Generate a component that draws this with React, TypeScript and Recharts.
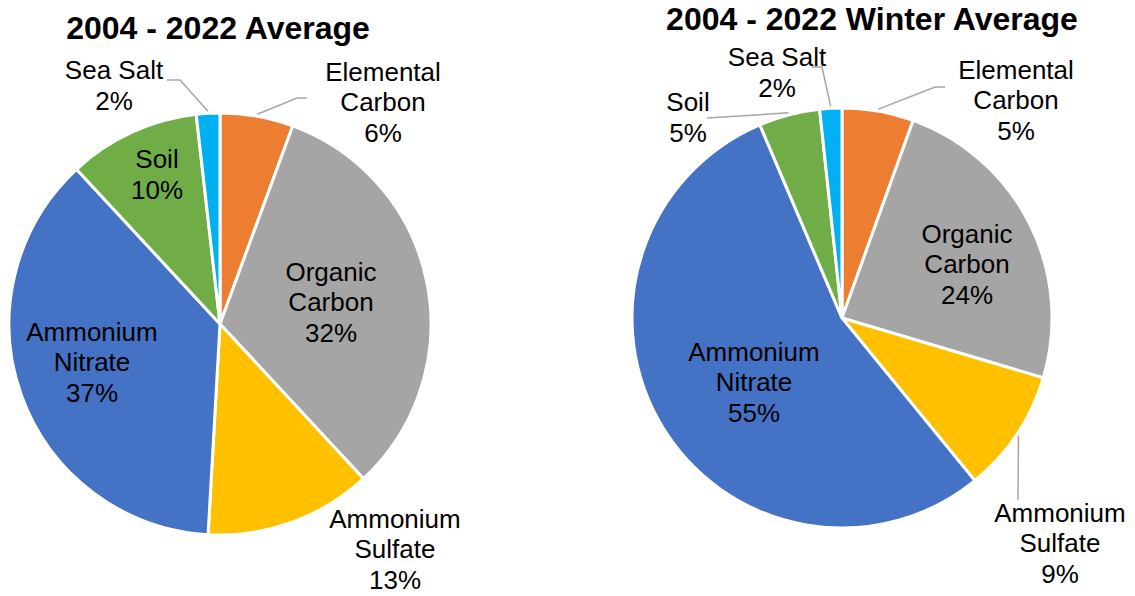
import React from "react";
import { PieChart, Pie, Cell } from "recharts";

// ─── Data ─────────────────────────────────────────────────────────────────────

const COMPONENTS = [
  "Elemental Carbon",
  "Organic Carbon",
  "Ammonium Sulfate",
  "Ammonium Nitrate",
  "Soil",
  "Sea Salt",
];

// how each category name is broken onto lines in the slice label
const LABEL_LINES = [
  ["Elemental", "Carbon"],
  ["Organic", "Carbon"],
  ["Ammonium", "Sulfate"],
  ["Ammonium", "Nitrate"],
  ["Soil"],
  ["Sea Salt"],
];

// slice sizes (shares of total mass, %)
const ANNUAL_SHARE = [5.6, 32.5, 12.8, 37.2, 10.1, 1.8];
const ANNUAL_PCT = ["6%", "32%", "13%", "37%", "10%", "2%"];

const WINTER_SHARE = [5.5, 24.1, 9.5, 54.5, 4.7, 1.7];
const WINTER_PCT = ["5%", "24%", "9%", "55%", "5%", "2%"];

const ANNUAL_TITLE = "2004 - 2022 Average";
const WINTER_TITLE = "2004 - 2022 Winter Average";

// ─── Styling / layout ─────────────────────────────────────────────────────────

const COLORS = ["#ED7D31", "#A5A5A5", "#FFC000", "#4472C4", "#70AD47", "#00B0F0"];
const FONT = "'Liberation Sans', Arial, Helvetica, sans-serif";
const LABEL_SIZE = 26;
const LINE_H = 30.5;

interface LabelSpot {
  dx: number; // label block centre, relative to pie centre
  dy: number;
  leader?: [number, number][]; // leader elbow points, relative to pie centre
}

const ANNUAL_SPOTS: LabelSpot[] = [
  { dx: 163, dy: -222, leader: [[77, -226], [87, -226]] },
  { dx: 111, dy: -22 },
  { dx: 175, dy: 225 },
  { dx: -128, dy: 38 },
  { dx: -63, dy: -150 },
  { dx: -106, dy: -239, leader: [[-40, -244], [-53, -244]] },
];

const WINTER_SPOTS: LabelSpot[] = [
  { dx: 174, dy: -218, leader: [[93, -231], [103, -231]] },
  { dx: 125, dy: -54 },
  { dx: 218, dy: 225, leader: [[176, 182]] },
  { dx: -88, dy: 64 },
  { dx: -154, dy: -201, leader: [[-135, -200]] },
  { dx: -65, dy: -246, leader: [[-20, -251], [-30, -251]] },
];

const toRows = (shares: number[]) =>
  COMPONENTS.map((name, i) => ({ name, value: shares[i] }));

function makeLabel(pct: string[], spots: LabelSpot[]) {
  return (props: any) => {
    const { cx, cy, midAngle, outerRadius, index } = props;
    const spot = spots[index];
    const lines = [...LABEL_LINES[index], pct[index]];
    const lx = cx + spot.dx;
    const firstY = cy + spot.dy - ((lines.length - 1) * LINE_H) / 2 + LABEL_SIZE * 0.36;

    let leader = null;
    if (spot.leader) {
      const rad = (-midAngle * Math.PI) / 180;
      const ex = cx + (outerRadius + 2) * Math.cos(rad);
      const ey = cy + (outerRadius + 2) * Math.sin(rad);
      const pts = [[ex, ey], ...spot.leader.map(([x, y]) => [cx + x, cy + y])];
      leader = (
        <polyline
          points={pts.map((p) => p.join(",")).join(" ")}
          fill="none"
          stroke="#A6A6A6"
          strokeWidth={1.5}
        />
      );
    }

    return (
      <g key={`lbl-${index}`}>
        {leader}
        <text
          textAnchor="middle"
          fill="#000"
          style={{ fontFamily: FONT, fontSize: LABEL_SIZE }}
        >
          {lines.map((l, i) => (
            <tspan key={i} x={lx} y={firstY + i * LINE_H}>
              {l}
            </tspan>
          ))}
        </text>
      </g>
    );
  };
}

const titleStyle: React.CSSProperties = {
  position: "absolute",
  fontFamily: FONT,
  fontWeight: 700,
  fontSize: 32,
  lineHeight: "32px",
  color: "#000",
  whiteSpace: "nowrap",
  transform: "translateX(-50%)",
  zIndex: 1,
};

export default function App() {
  return (
    <div
      style={{
        position: "absolute",
        left: 0,
        top: 0,
        width: 1135,
        height: 596,
        background: "#fff",
      }}
    >
      <div style={{ ...titleStyle, left: 218, top: 12 }}>{ANNUAL_TITLE}</div>
      <div style={{ ...titleStyle, left: 872, top: 3 }}>{WINTER_TITLE}</div>

      <PieChart
        width={1135}
        height={596}
        margin={{ top: 0, right: 0, bottom: 0, left: 0 }}
        style={{ position: "absolute", left: 0, top: 0 }}
      >
        <Pie
          data={toRows(ANNUAL_SHARE)}
          dataKey="value"
          nameKey="name"
          cx={220}
          cy={324}
          outerRadius={211}
          startAngle={90}
          endAngle={-270}
          stroke="#fff"
          strokeWidth={3}
          label={makeLabel(ANNUAL_PCT, ANNUAL_SPOTS)}
          labelLine={false}
          isAnimationActive={false}
        >
          {COMPONENTS.map((c, i) => (
            <Cell key={c} fill={COLORS[i]} />
          ))}
        </Pie>
        <Pie
          data={toRows(WINTER_SHARE)}
          dataKey="value"
          nameKey="name"
          cx={842}
          cy={318}
          outerRadius={210}
          startAngle={90}
          endAngle={-270}
          stroke="#fff"
          strokeWidth={3}
          label={makeLabel(WINTER_PCT, WINTER_SPOTS)}
          labelLine={false}
          isAnimationActive={false}
        >
          {COMPONENTS.map((c, i) => (
            <Cell key={c} fill={COLORS[i]} />
          ))}
        </Pie>
      </PieChart>
    </div>
  );
}
